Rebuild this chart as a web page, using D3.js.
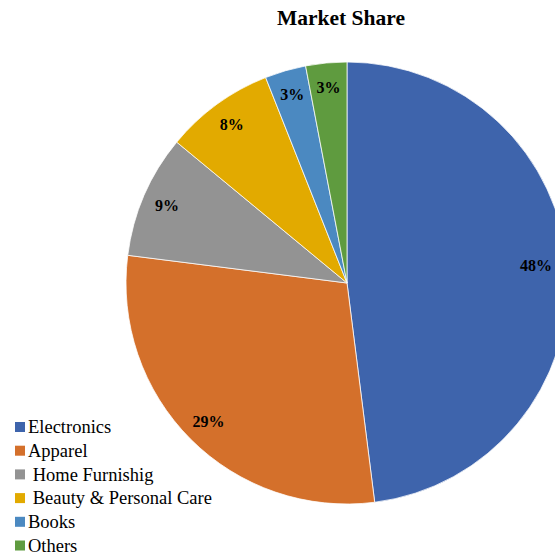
<!DOCTYPE html>
<html>
<head>
<meta charset="utf-8">
<script src="https://cdn.jsdelivr.net/npm/d3@7"></script>
<style>
  html, body { margin: 0; padding: 0; background: #fff; overflow: hidden; }
  svg { display: block; }
</style>
</head>
<body>
<svg id="chart" width="555" height="555"></svg>
<script>
const categories = ["Electronics", "Apparel", " Home Furnishig", " Beauty & Personal Care", "Books", "Others"];
const shares = [48, 29, 9, 8, 3, 3];
const labels = ["48%", "29%", "9%", "8%", "3%", "3%"];
const colors = ["#3E64AC", "#D4702B", "#939393", "#E2AA00", "#4B89C1", "#5F9B3F"];

const svg = d3.select("#chart");
const W = 555, H = 555;
const cx = 347, cy = 283, R = 221;
const serif = "'Liberation Serif', 'Times New Roman', serif";

svg.append("text")
  .attr("x", 341).attr("y", 25)
  .attr("text-anchor", "middle")
  .style("font-family", serif)
  .style("font-weight", "bold")
  .style("font-size", "21.5px")
  .attr("fill", "#000")
  .text("Market Share");

const data = categories.map((c, i) => ({ name: c, value: shares[i], label: labels[i], color: colors[i] }));
const pie = d3.pie().value(d => d.value).sort(null);
const arcs = pie(data);
const arc = d3.arc().innerRadius(0).outerRadius(R);
const labelArc = d3.arc().innerRadius(196).outerRadius(196);

const g = svg.append("g").attr("transform", `translate(${cx},${cy})`);
g.selectAll("path").data(arcs).join("path")
  .attr("d", arc)
  .attr("fill", d => d.data.color)
  .attr("stroke", "#fff")
  .attr("stroke-width", 0.75);

const lbl = g.selectAll("text.lbl").data(arcs).join("text")
  .attr("class", "lbl")
  .attr("text-anchor", "middle")
  .attr("dy", "0.35em")
  .style("font-family", serif)
  .style("font-weight", "bold")
  .style("font-size", "16px")
  .attr("fill", "#000")
  .text(d => d.data.label);

// keep labels inside the visible area (pie is clipped on the right)
lbl.each(function(d) {
  let [x, y] = labelArc.centroid(d);
  const w = this.getComputedTextLength();
  const maxX = (W - 3) - cx - w / 2;
  if (x > maxX) { x = maxX; y -= 5; }
  d3.select(this).attr("transform", `translate(${x},${y})`);
});

const legend = svg.append("g").attr("transform", "translate(15,422)");
const rows = legend.selectAll("g").data(data).join("g")
  .attr("transform", (d, i) => `translate(0,${i * 23.7})`);
rows.append("rect").attr("width", 10).attr("height", 10).attr("fill", d => d.color);
rows.append("text")
  .attr("x", 13).attr("y", 11.3)
  .attr("xml:space", "preserve")
  .style("white-space", "pre")
  .style("font-family", serif)
  .style("font-size", "18.5px")
  .attr("fill", "#000")
  .text(d => d.name);
</script>
</body>
</html>
